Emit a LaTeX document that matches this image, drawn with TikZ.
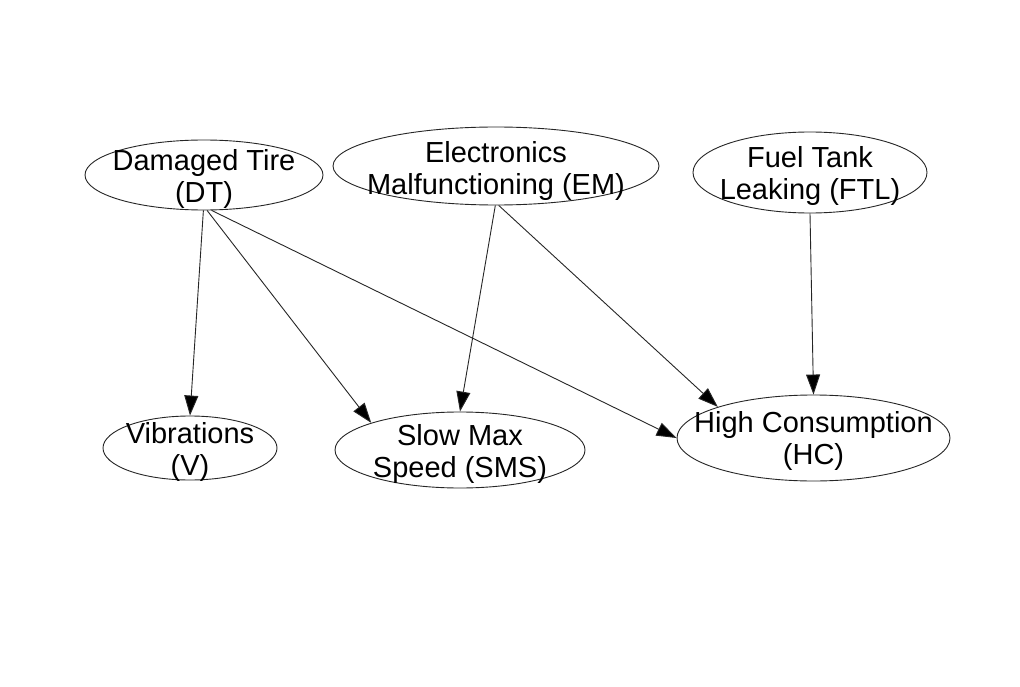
\documentclass[tikz,border=0pt]{standalone}
\usepackage{fontspec}
\setmainfont{Liberation Sans}
\usetikzlibrary{shapes.geometric,arrows.meta}
\begin{document}
\begin{tikzpicture}[x=1pt,y=-1pt,
  oval/.style={draw,ellipse,inner sep=0pt,line width=0.9pt,color=black!85},
  lbl/.style={align=center,inner sep=0pt,font=\fontsize{29}{32}\selectfont,text=black},
  edge/.style={line width=0.9pt,draw=black!85,-{Triangle[length=20pt,width=14pt,fill=black]}}]
\useasboundingbox (0,0) rectangle (1020,687);
\fill[white] (0,0) rectangle (1020,687);
% ellipses
\node[oval,minimum width=238pt,minimum height=70pt] (dt) at (204,175) {};
\node[oval,minimum width=326pt,minimum height=78pt] (em) at (496,166) {};
\node[oval,minimum width=234pt,minimum height=81pt] (ftl) at (810,172.5) {};
\node[oval,minimum width=174pt,minimum height=64pt] (v) at (190,448) {};
\node[oval,minimum width=250pt,minimum height=76pt] (sms) at (460,450) {};
\node[oval,minimum width=273pt,minimum height=86pt] (hc) at (813.5,438) {};
% labels
\node[lbl] (dtl) at (204,179) {Damaged Tire\\(DT)};
\node[lbl] (eml) at (496,171) {Electronics\\Malfunctioning (EM)};
\node[lbl] (ftll) at (810,176) {Fuel Tank\\Leaking (FTL)};
\node[lbl] (vl) at (190,452) {Vibrations\\(V)};
\node[lbl] (smsl) at (460,454) {Slow Max\\Speed (SMS)};
\node[lbl] (hcl) at (813.5,441) {High Consumption\\(HC)};
% connectors
\draw[edge] (dt.-91) -- (v.north);
\draw[edge] (dt.-85) -- (sms.163);
\draw[edge] (dt.-78) -- (hc.west);
\draw[edge] (em.-91) -- (sms.north);
\draw[edge] (em.-86) -- (hc.162);
\draw[edge] (ftl.south) -- (hc.north);
\end{tikzpicture}
\end{document}
